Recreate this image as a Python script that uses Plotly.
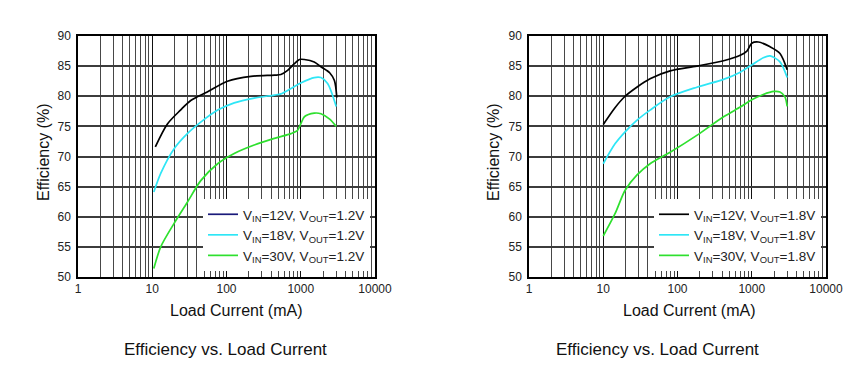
import plotly.graph_objects as go

# ---- data ----
# Left chart: VOUT = 1.2V
cur_12_a = [11, 16, 24, 33, 55, 103, 213, 440, 540, 665, 820, 960, 1120, 1520, 1870, 2450, 2840, 3060]
eff_12_a = [71.6, 75.4, 77.7, 79.3, 80.7, 82.5, 83.3, 83.5, 83.6, 84.3, 85.4, 86.1, 86.1, 85.7, 84.9, 83.9, 82.6, 79.8]
cur_18_a = [10.5, 13, 19.7, 29.7, 45, 76, 127, 236, 440, 540, 740, 1000, 1520, 1870, 2300, 3000]
eff_18_a = [64.1, 67.2, 71.3, 73.8, 75.7, 77.7, 78.9, 79.7, 80.2, 80.4, 81.3, 82.2, 83.1, 83.1, 82.1, 78.3]
cur_30_a = [10.5, 13, 19.7, 29.7, 45, 76, 127, 236, 440, 740, 900, 1000, 1120, 1520, 1870, 2450, 3000]
eff_30_a = [51.4, 55.0, 58.9, 62.4, 66.0, 68.8, 70.5, 71.9, 73.0, 73.8, 74.3, 75.4, 76.6, 77.2, 77.1, 76.2, 75.0]

# Right chart: VOUT = 1.8V
cur_12_b = [10, 14.4, 19.7, 28.3, 42.7, 79.6, 182, 417, 700, 861, 1000, 1230, 1770, 2400, 3000]
eff_12_b = [75.3, 78.1, 80.0, 81.5, 82.9, 84.2, 85.0, 85.9, 86.8, 87.5, 88.8, 89.0, 88.2, 87.1, 84.4]
cur_18_b = [10, 14.4, 19.7, 28.3, 42.7, 79.6, 182, 417, 700, 1000, 1430, 1770, 2400, 3000]
eff_18_b = [68.8, 72.1, 74.1, 76.0, 77.7, 79.9, 81.5, 82.8, 84.0, 85.2, 86.4, 86.7, 85.7, 83.1]
cur_30_b = [10, 14.4, 19.7, 28.3, 42.7, 79.6, 182, 417, 700, 1000, 1430, 1990, 2400, 2800, 3000]
eff_30_b = [56.8, 60.5, 64.4, 66.9, 68.8, 70.7, 73.5, 76.6, 78.2, 79.4, 80.3, 80.8, 80.7, 79.9, 78.3]

names_a = ["V<sub>IN</sub>=12V, V<sub>OUT</sub>=1.2V",
           "V<sub>IN</sub>=18V, V<sub>OUT</sub>=1.2V",
           "V<sub>IN</sub>=30V, V<sub>OUT</sub>=1.2V"]
names_b = ["V<sub>IN</sub>=12V, V<sub>OUT</sub>=1.8V",
           "V<sub>IN</sub>=18V, V<sub>OUT</sub>=1.8V",
           "V<sub>IN</sub>=30V, V<sub>OUT</sub>=1.8V"]
x_ticks = [1, 10, 100, 1000, 10000]
y_ticks = [50, 55, 60, 65, 70, 75, 80, 85, 90]
x_title = "Load Current (mA)"
y_title = "Efficiency (%)"
caption = "Efficiency vs. Load Current"

BLACK = "#000000"
NAVY = "#1a1a7a"
CYAN = "#2ee6f6"
GREEN = "#2ee02e"
FONT = "Liberation Sans, Arial, sans-serif"

# page body has an 8px margin; figure is sized to fit the window
OFF = 8
W, H = 857 - OFF, 370 - OFF
def fx(px):
    return (px - OFF) / W
def fy(py):
    return 1 - (py - OFF) / H

fig = go.Figure()

# left chart curves
for xs, ys, c in [(cur_12_a, eff_12_a, BLACK), (cur_18_a, eff_18_a, CYAN), (cur_30_a, eff_30_a, GREEN)]:
    fig.add_trace(go.Scatter(x=xs, y=ys, mode="lines", line=dict(color=c, width=1.7, shape="spline", smoothing=0.8),
                             showlegend=False, xaxis="x", yaxis="y", hoverinfo="skip"))
# left legend entries (first entry shown navy as in the reference)
for n, c in zip(names_a, [NAVY, CYAN, GREEN]):
    fig.add_trace(go.Scatter(x=[None], y=[None], mode="lines", line=dict(color=c, width=1.7), name=n,
                             xaxis="x", yaxis="y", legend="legend"))
# right chart curves
for xs, ys, c, n in [(cur_12_b, eff_12_b, BLACK, names_b[0]), (cur_18_b, eff_18_b, CYAN, names_b[1]),
                     (cur_30_b, eff_30_b, GREEN, names_b[2])]:
    fig.add_trace(go.Scatter(x=xs, y=ys, mode="lines", line=dict(color=c, width=1.7, shape="spline", smoothing=0.8),
                             name=n, xaxis="x2", yaxis="y2", legend="legend2", hoverinfo="skip"))

minor_vals = [m * d for d in [1, 10, 100, 1000] for m in range(2, 10)]

def xax(domain, anchor):
    return dict(type="log", domain=domain, anchor=anchor, range=[0, 4], automargin=False,
                tickvals=x_ticks, ticktext=[str(v) for v in x_ticks],
                showgrid=True, gridcolor="#111111", gridwidth=1,
                minor=dict(tickvals=minor_vals, showgrid=True, gridcolor="#484848", gridwidth=1.3, ticks=""),
                showline=True, linecolor="#000000", linewidth=1.5, mirror=True,
                ticks="", tickfont=dict(family=FONT, size=12, color="#222222"), zeroline=False)

def yax(domain, anchor):
    return dict(domain=domain, anchor=anchor, range=[50, 90], tickvals=y_ticks, automargin=False,
                showgrid=True, gridcolor="#3c3c3c", gridwidth=1.5,
                showline=True, linecolor="#000000", linewidth=1.5, mirror=True,
                ticks="", ticklabelstandoff=3,
                tickfont=dict(family=FONT, size=12, color="#222222"), zeroline=False)

yd = [fy(277), fy(36)]
LEG_FONT = dict(family=FONT, size=13.5, color="#222222")
fig.update_layout(
    width=W, height=H,
    margin=dict(l=0, r=0, t=0, b=0, autoexpand=False),
    paper_bgcolor="white", plot_bgcolor="white",
    xaxis=xax([fx(78), fx(375)], "y"),
    yaxis=yax(yd, "x"),
    xaxis2=xax([fx(529), fx(826)], "y2"),
    yaxis2=yax(yd, "x2"),
    legend=dict(x=fx(203), y=fy(199), xanchor="left", yanchor="top",
                bgcolor="white", borderwidth=0, itemwidth=30, tracegroupgap=0, font=LEG_FONT),
    legend2=dict(x=fx(654), y=fy(199), xanchor="left", yanchor="top",
                 bgcolor="white", borderwidth=0, itemwidth=30, tracegroupgap=0, font=LEG_FONT),
    showlegend=True,
)

annots = []
for cx_title, cy_title, cx_y, cap_x in [(236, 310, 43, 225), (689, 310, 493, 657)]:
    annots.append(dict(text=x_title, x=fx(cx_title), y=fy(cy_title), xref="paper", yref="paper",
                       showarrow=False, xanchor="center", yanchor="middle",
                       font=dict(family=FONT, size=16, color="#111111")))
    annots.append(dict(text=y_title, x=fx(cx_y), y=fy(152), xref="paper", yref="paper",
                       showarrow=False, xanchor="center", yanchor="middle", textangle=-90,
                       font=dict(family=FONT, size=16, color="#111111")))
    annots.append(dict(text=caption, x=fx(cap_x), y=fy(349), xref="paper", yref="paper",
                       showarrow=False, xanchor="center", yanchor="middle",
                       font=dict(family=FONT, size=17, color="#111111")))
fig.update_layout(annotations=annots)

fig.write_html("out.html")
